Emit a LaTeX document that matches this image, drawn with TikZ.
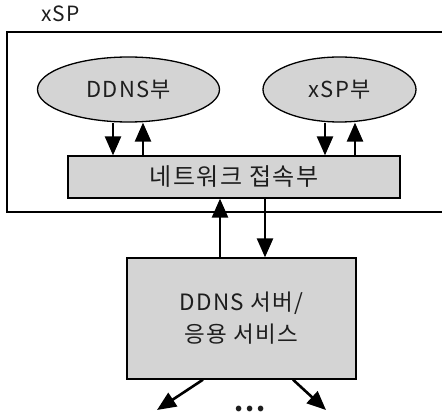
\documentclass[tikz,border=0pt]{standalone}
\usepackage{fontspec}
\setmainfont[LetterSpace=6]{Noto Sans CJK KR}
\usetikzlibrary{arrows.meta,shapes.geometric}
\definecolor{boxgray}{RGB}{212,212,212}
\definecolor{txt}{RGB}{30,30,30}
\begin{document}
\begin{tikzpicture}[x=1pt,y=-1pt,
  arr/.style={line width=2.6pt, -{Triangle[length=19pt,width=16pt]}},
  oval/.style={ellipse, draw, line width=1.3pt, fill=boxgray, inner sep=0pt, text=txt, font=\fontsize{22}{26}\selectfont},
  greybox/.style={rectangle, draw, line width=1.3pt, fill=boxgray, inner sep=0pt, text=txt, align=center}
]
\useasboundingbox (0,0) rectangle (442,414);
\node[anchor=base west, text=txt, font=\fontsize{21}{24}\selectfont, inner sep=0pt] (title) at (41,22) {xSP};
\coordinate (otr) at (442,32);
\coordinate (obl) at (7,212);
\coordinate (obr) at (442,212);
\draw[line width=2.2pt] (otr) -| (obl) -- (obr);
\node[oval, minimum width=182pt, minimum height=65pt] (ddns) at (128.5,89.5) {DDNS부};
\node[oval, minimum width=153pt, minimum height=65pt] (xsp) at (339.5,89.5) {xSP부};
\node[greybox, minimum width=332pt, minimum height=42pt, font=\fontsize{24}{28}\selectfont] (net) at (234,177) {네트워크 접속부};
\node[greybox, minimum width=229pt, minimum height=121pt, font=\fontsize{22.5}{32}\selectfont] (server) at (241.5,318.5) {DDNS 서버/\\응용 서비스};
% arrows between ellipses and network box
\draw[arr] ([xshift=-15.5pt]ddns.south) -- ([xshift=-15.5pt]ddns.south |- net.north);
\draw[arr] ([xshift=14.5pt]ddns.south |- net.north) -- ([xshift=14.5pt]ddns.south);
\draw[arr] ([xshift=-14.5pt]xsp.south) -- ([xshift=-14.5pt]xsp.south |- net.north);
\draw[arr] ([xshift=15.5pt]xsp.south |- net.north) -- ([xshift=15.5pt]xsp.south);
% arrows between network box and server
\draw[arr] ([xshift=-21.5pt]server.north) -- ([xshift=-21.5pt]server.north |- net.south);
\draw[arr] ([xshift=23.5pt]server.north |- net.south) -- ([xshift=23.5pt]server.north);
% outgoing arrows
\coordinate (lt) at (157,410);
\coordinate (rt) at (326,410);
\draw[arr] ([xshift=-38.5pt]server.south) -- (lt);
\draw[arr] ([xshift=51.5pt]server.south) -- (rt);
\node[anchor=base, text=txt, font=\fontsize{26}{26}\selectfont\bfseries, inner sep=0pt] (dots) at (250,411) {...};
\end{tikzpicture}
\end{document}
